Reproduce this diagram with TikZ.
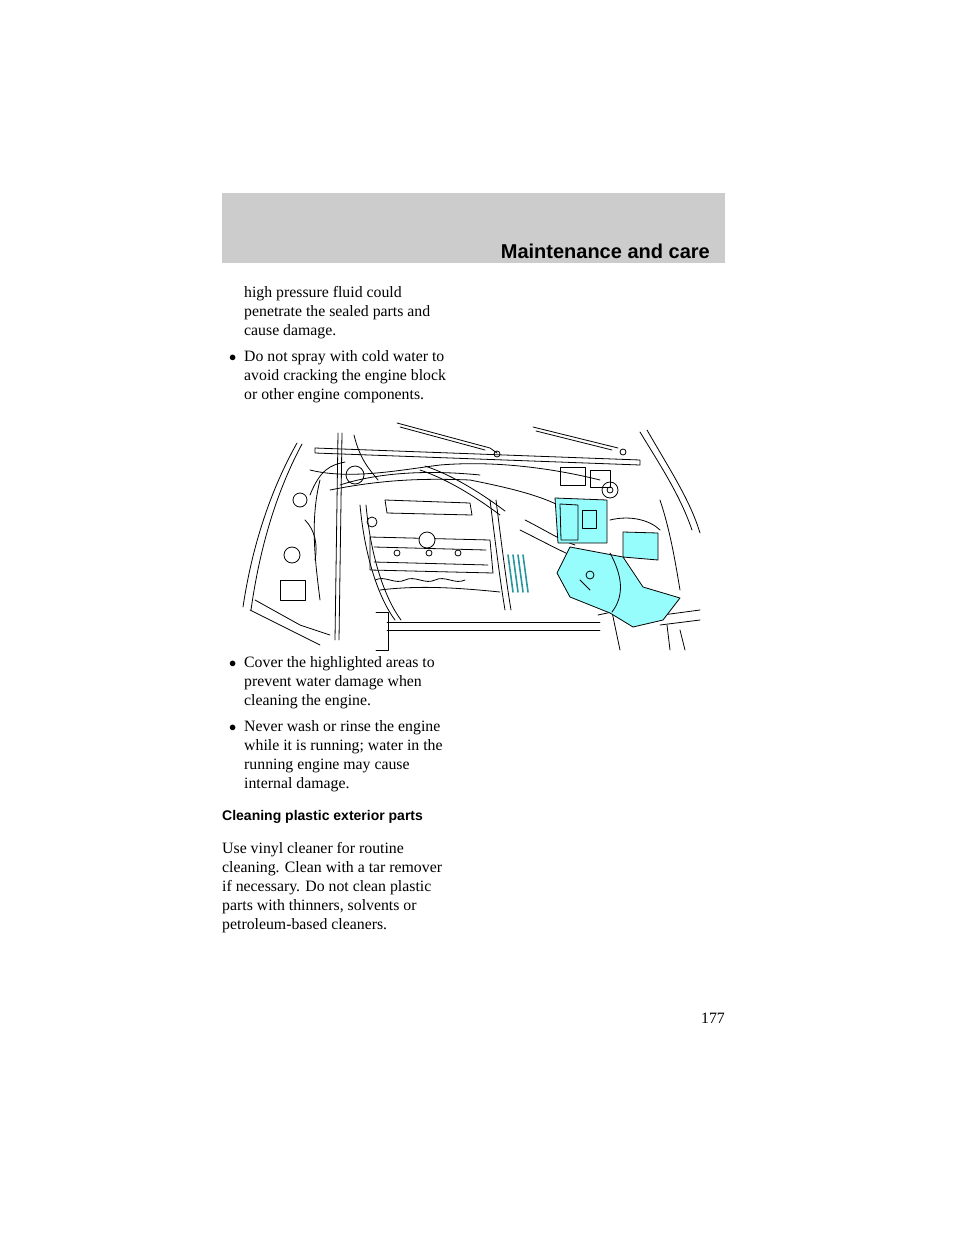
\documentclass[tikz,border=0pt]{standalone}
\usepackage{fontspec}
\setmainfont{Liberation Serif}
\setsansfont{Liberation Sans}
\definecolor{hl}{RGB}{150,252,252}
\definecolor{hd}{RGB}{40,150,160}
\definecolor{band}{RGB}{204,204,204}
\begin{document}
\begin{tikzpicture}[x=1pt,y=-1pt,
  body/.style={anchor=base west,inner sep=0pt,font=\fontsize{15.8}{19}\selectfont},
  ln/.style={line width=0.8pt,line cap=round,line join=round},
  cy/.style={ln,fill=hl}]
\useasboundingbox (0,0) rectangle (960,1242);
\fill[band] (222,193) rectangle (725,263);
\node[anchor=base east,inner sep=0pt,font=\sffamily\bfseries\fontsize{20}{24}\selectfont] (hdr) at (710,258) {Maintenance and care};
% text top
\node[body] (t1) at (244,297) {high pressure fluid could};
\node[body] (t2) at (244,316) {penetrate the sealed parts and};
\node[body] (t3) at (244,335) {cause damage.};
\node[body] (b1) at (229,361) {$\bullet$};
\node[body] (t4) at (244,361) {Do not spray with cold water to};
\node[body] (t5) at (244,380) {avoid cracking the engine block};
\node[body] (t6) at (244,399) {or other engine components.};
% engine drawing
\draw[ln] (297,443) .. controls (265,500) and (250,560) .. (243,607);
\draw[ln] (302,444) .. controls (272,500) and (258,560) .. (251,610);
\draw[ln] (647,430) .. controls (670,470) and (690,500) .. (700,533);
\draw[ln] (640,432) .. controls (660,465) and (680,495) .. (692,530);
\draw[ln] (315,448) -- (640,460) -- (640,465) -- (315,453) -- cycle;
\draw[ln] (397,423) -- (490,448) -- (497,453);
\draw[ln] (400,427) -- (485,450);
\draw[ln] (497,454) circle (3);
\draw[ln] (533,427) -- (618,448);
\draw[ln] (536,431) -- (612,450);
\draw[ln] (623,452) circle (3);
\draw[ln] (338,433) -- (335,640);
\draw[ln] (342,433) -- (339,640);
\draw[ln] (354,435) .. controls (360,460) and (370,470) .. (378,480);
\draw[ln] (310,470) .. controls (350,480) and (400,470) .. (440,465) .. controls (500,460) and (560,470) .. (600,480);
\draw[ln] (330,490) .. controls (380,480) and (420,478) .. (470,480) .. controls (520,490) and (560,500) .. (580,520);
\draw[ln] (340,485) .. controls (380,472) and (430,470) .. (480,475);
\draw[ln] (420,470) .. controls (450,480) and (480,500) .. (500,515);
\draw[ln] (425,466) .. controls (455,476) and (485,496) .. (505,511);
\draw[ln] (355,475) circle (9);
\draw[ln] (310,495) .. controls (320,470) and (330,465) .. (345,462);
% valve cover
\draw[ln] (370,537) -- (490,540) -- (493,573) -- (370,570) -- cycle;
\draw[ln] (374,547) -- (486,550);
\draw[ln] (374,562) -- (488,565);
\draw[ln,fill=white] (427,540) circle (8);
\foreach \p in {(397,553),(429,553),(458,553)} \draw[ln] \p circle (3);
\draw[ln] (385,500) -- (470,503) -- (472,515) -- (387,513) -- cycle;
\draw[ln] (375,580) .. controls (385,575) and (395,585) .. (405,580) .. controls (415,575) and (425,585) .. (435,580) .. controls (445,575) and (455,585) .. (465,580);
\draw[ln] (380,590) .. controls (420,585) and (460,588) .. (500,592);
\draw[ln] (360,505) .. controls (365,560) and (380,600) .. (395,620);
\draw[ln] (366,505) .. controls (371,560) and (386,600) .. (401,620);
\draw[ln] (490,500) .. controls (495,540) and (500,580) .. (505,610);
\draw[ln] (496,500) .. controls (501,540) and (506,580) .. (511,610);
\draw[ln] (372,522) circle (5);
% radiator bar
\draw[ln] (387,622) -- (600,622);
\draw[ln] (387,630) -- (600,630);
\draw[ln] (376,612) -- (388,612) -- (388,650) -- (376,650);
\draw[ln] (598,615) -- (612,612) -- (620,650);
% left parts
\draw[ln] (300,500) circle (7);
\draw[ln] (292,555) circle (8);
\draw[ln] (280,580) rectangle (305,600);
\draw[ln] (255,600) -- (300,625) -- (330,635);
\draw[ln] (250,610) -- (290,630) -- (320,645);
\draw[ln] (320,480) .. controls (310,520) and (315,560) .. (320,600);
\draw[ln] (305,520) .. controls (315,530) and (318,545) .. (315,560);
% right parts
\draw[ln] (610,490) circle (8);
\draw[ln] (610,490) circle (3);
\draw[ln] (660,500) .. controls (670,530) and (675,560) .. (680,590);
\draw[ln] (610,520) .. controls (630,515) and (650,520) .. (660,530);
\draw[ln] (640,618) -- (700,610);
\draw[ln] (660,625) -- (700,620);
\draw[ln] (667,625) -- (670,650);
\draw[ln] (680,630) -- (685,650);
\draw[ln] (560,467) rectangle (585,485);
\draw[ln] (590,470) rectangle (610,487);
% intake hose
\draw[ln] (520,530) .. controls (540,540) and (555,548) .. (570,555);
\draw[ln] (525,520) .. controls (545,530) and (560,540) .. (575,545);
% cyan parts
\draw[cy] (555,498) -- (607,500) -- (607,543) -- (558,543) -- cycle;
\draw[ln] (560,504) -- (578,505) -- (578,540) -- (561,540) -- cycle;
\draw[ln] (582,510) rectangle (596,528);
\draw[cy] (623,532) -- (658,533) -- (658,560) -- (623,557) -- cycle;
\draw[cy] (570,547) -- (623,557) -- (643,587) -- (680,598) -- (663,620) -- (633,627) -- (610,613) -- (570,597) -- (557,573) -- cycle;
\draw[ln] (610,553) .. controls (622,575) and (625,595) .. (612,612);
\draw[ln] (580,580) -- (590,590);
\draw[ln] (590,575) circle (4);
\foreach \dx in {0,5,10,15} \draw[ln,hd,line width=1.6pt] (508+\dx,555) -- (513+\dx,592);
% bullets mid
\node[body] (b2) at (229,667) {$\bullet$};
\node[body] (t7) at (244,667) {Cover the highlighted areas to};
\node[body] (t8) at (244,686) {prevent water damage when};
\node[body] (t9) at (244,705) {cleaning the engine.};
\node[body] (b3) at (229,731) {$\bullet$};
\node[body] (t10) at (244,731) {Never wash or rinse the engine};
\node[body] (t11) at (244,750) {while it is running; water in the};
\node[body] (t12) at (244,769) {running engine may cause};
\node[body] (t13) at (244,788) {internal damage.};
\node[anchor=base west,inner sep=0pt,font=\sffamily\bfseries\fontsize{14}{17}\selectfont] (h2) at (222,820) {Cleaning plastic exterior parts};
\node[body] (u1) at (222,853) {Use vinyl cleaner for routine};
\node[body] (u2) at (222,872) {cleaning. Clean with a tar remover};
\node[body] (u3) at (222,891) {if necessary. Do not clean plastic};
\node[body] (u4) at (222,910) {parts with thinners, solvents or};
\node[body] (u5) at (222,929) {petroleum-based cleaners.};
\node[anchor=base east,inner sep=0pt,font=\fontsize{15.8}{19}\selectfont] (pg) at (725,1023) {177};
\end{tikzpicture}
\end{document}
